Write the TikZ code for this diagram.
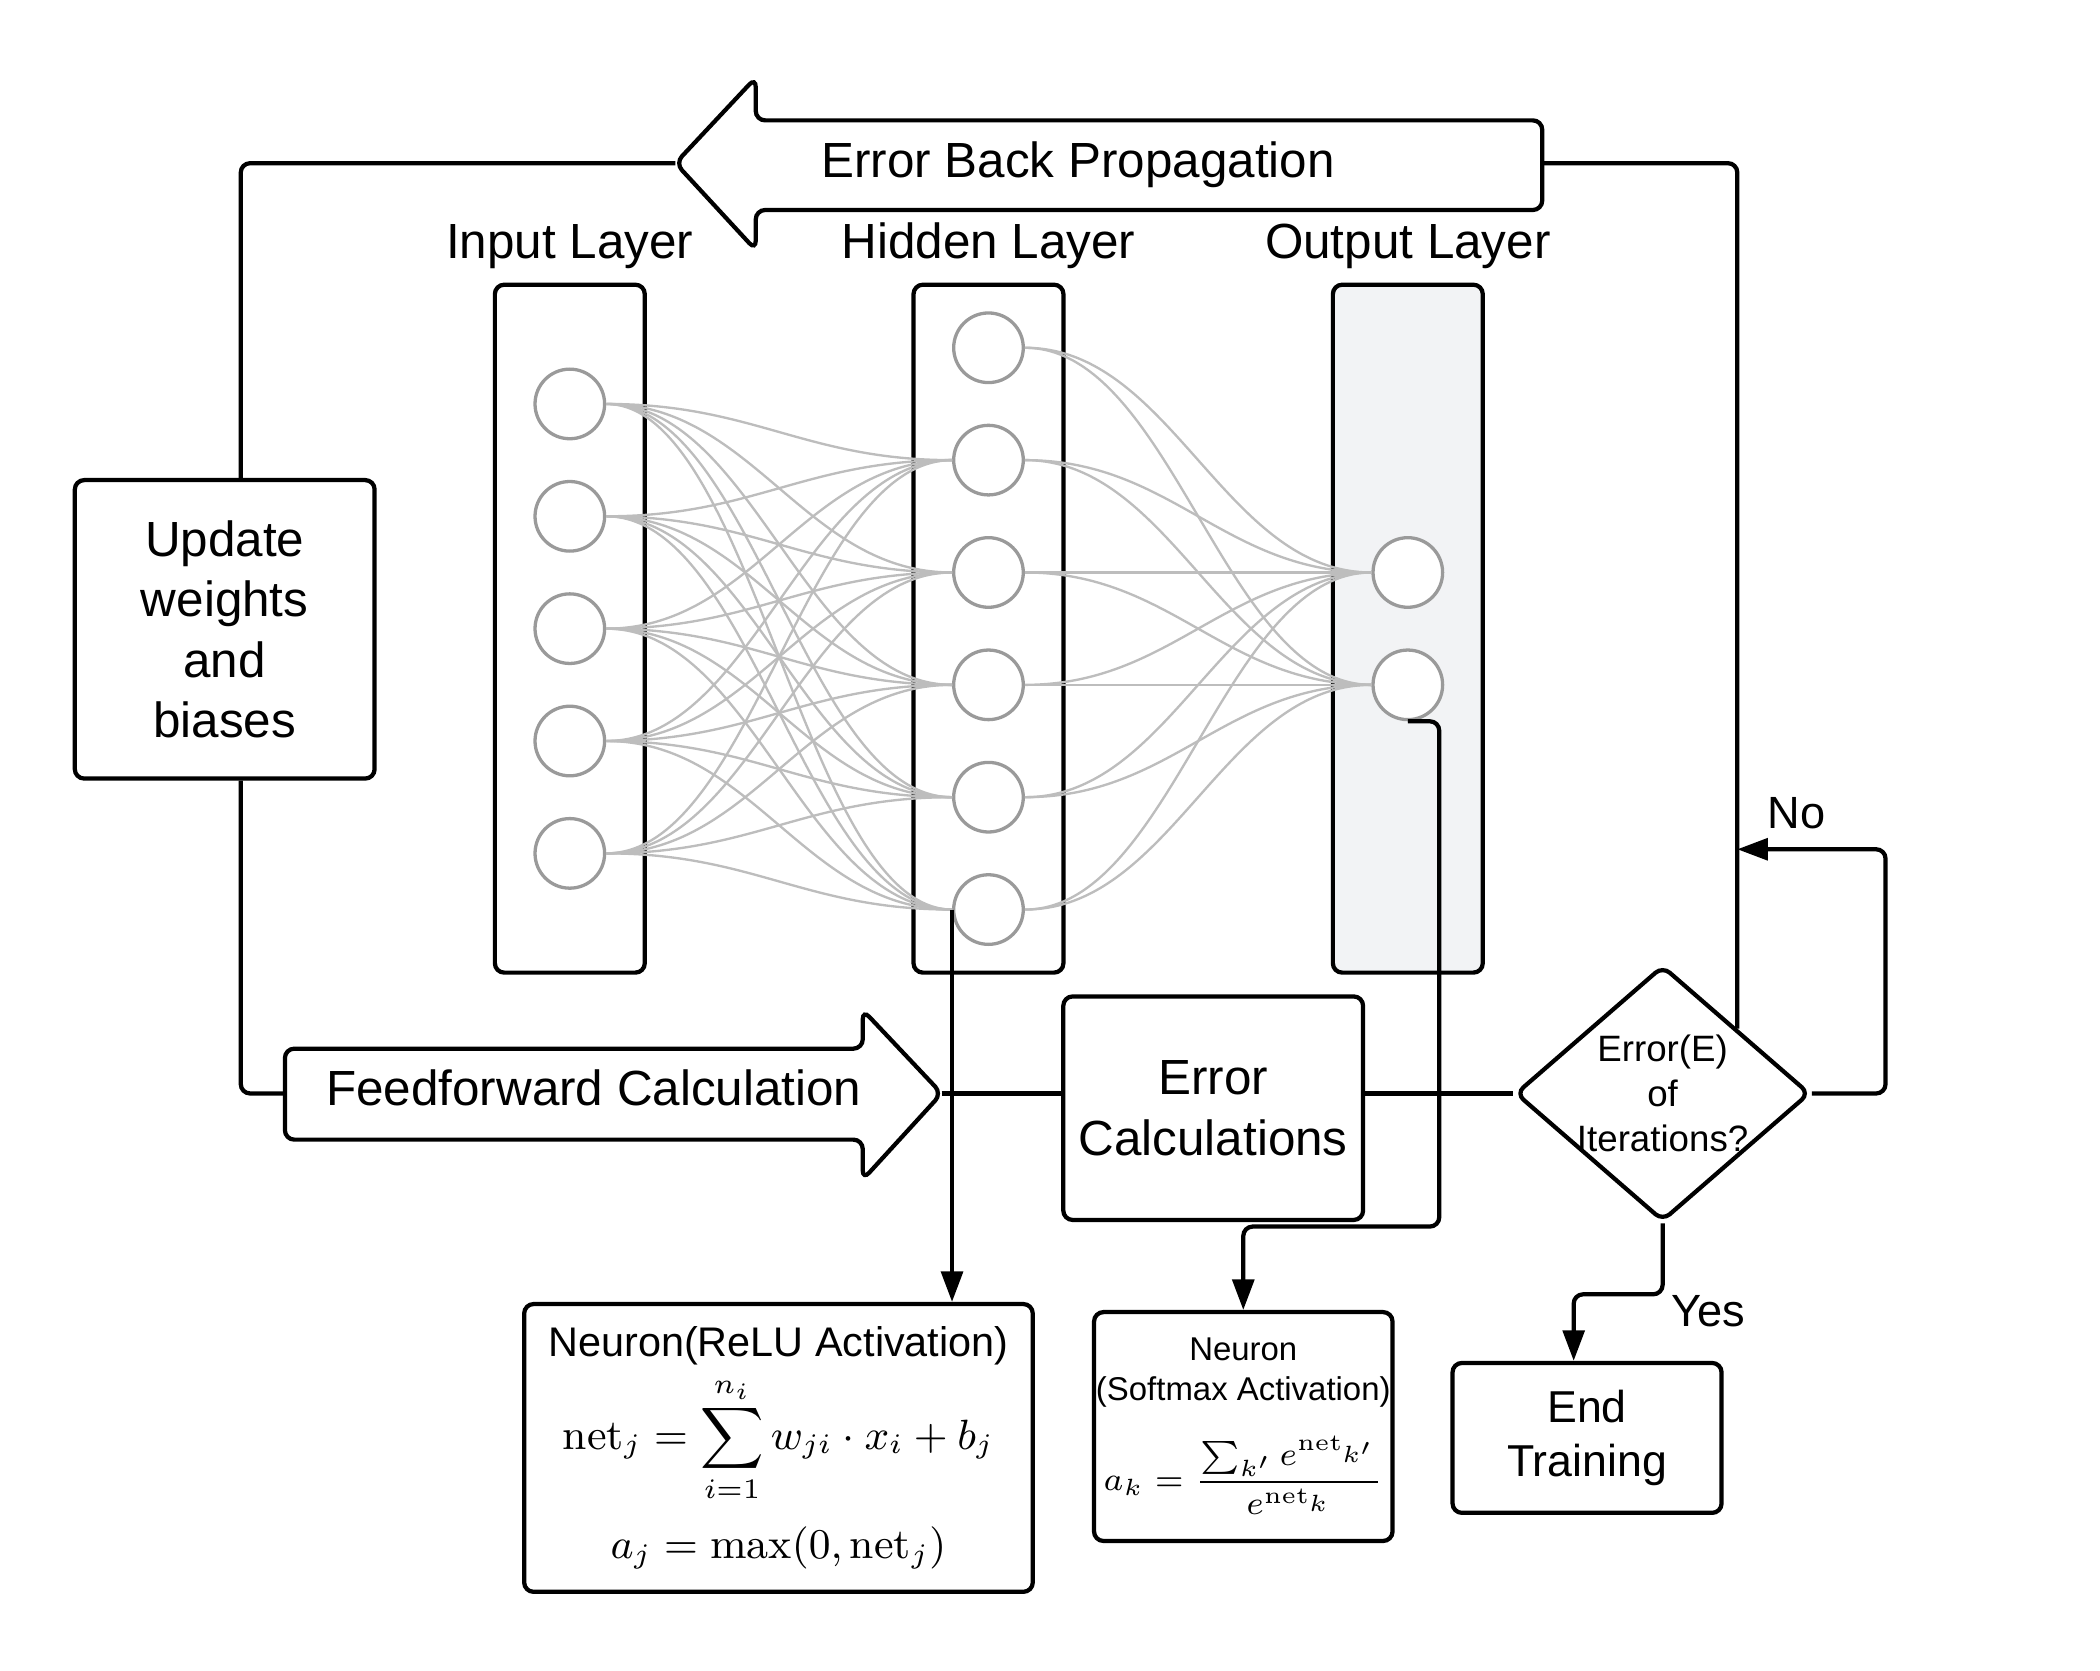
\documentclass[tikz,border=0pt]{standalone}
\usepackage{amsmath}
\usepackage{amssymb}
\usepackage{fontspec}
\newfontfamily\lsans{Liberation Sans}
\usetikzlibrary{arrows.meta, calc, positioning, shapes.geometric}
\definecolor{outfill}{HTML}{F2F3F5}
\definecolor{nrngray}{HTML}{9A9A9A}
\definecolor{syngray}{HTML}{BDBDBD}

\begin{document}
\begin{tikzpicture}[x=0.01cm, y=-0.01cm,
    box/.style={draw, line width=0.9pt, rounded corners=0.7mm, align=center, inner sep=0pt},
    big/.style={font=\lsans\fontsize{10.5}{12.8}\selectfont},
    layer/.style={box, minimum width=1.12cm, minimum height=5.14cm},
    neuron/.style={circle, draw=nrngray, line width=0.7pt, fill=white, minimum size=0.52cm, inner sep=0pt},
    syn/.style={draw=syngray, line width=0.5pt},
    flow/.style={line width=0.9pt, rounded corners=0.7mm},
    arr/.style={flow, -{Triangle[length=6.5pt, width=4.6pt]}}]
        \useasboundingbox (0,0) rectangle (1570,1249);

        \node[layer] (inbox) at (426,470) {};
        \node[layer] (hidbox) at (739,470) {};
        \node[layer, fill=outfill] (outbox) at (1052.5,470) {};
        \node[big, inner sep=0pt, above=1mm of inbox] (inlbl) {Input Layer};
        \node[big, inner sep=0pt, above=1mm of hidbox] (hidlbl) {Hidden Layer};
        \node[big, inner sep=0pt, above=1mm of outbox] (outlbl) {Output Layer};

        \foreach \k in {1,...,5} \node[neuron] (i\k) at (426,218+84*\k) {};
        \foreach \k in {1,...,6} \node[neuron] (h\k) at (739,176+84*\k) {};
        \foreach \k in {1,2} \node[neuron] (o\k) at (1052.5,344+84*\k) {};

        \foreach \a in {1,...,5}
            \foreach \b in {2,...,6}
                \draw[syn] (i\a.east) .. controls +(110,0) and +(-110,0) .. (h\b.west);
        \foreach \a in {1,...,6}
            \foreach \b in {1,2}
                \draw[syn] (h\a.east) .. controls +(110,0) and +(-110,0) .. (o\b.west);

        \node[box, big, minimum width=2.24cm, minimum height=2.23cm] (update) at (168,470.5) {Update\\weights\\and\\biases};

        \coordinate (bptip) at (505,122);
        \coordinate (bptail) at (1153,122);
        \draw[flow] (bptip) -- (565,58) -- (565,90) -- (1153,90) -- (1153,157) -- (565,157) -- (565,187) -- cycle;
        \node[big] (bptext) at (806,123) {Error Back Propagation};

        \coordinate (fftail) at (213,817.5);
        \coordinate (fftip) at (704,817.5);
        \draw[flow] (fftip) -- (645,882) -- (645,852) -- (213,852) -- (213,784) -- (645,784) -- (645,755) -- cycle;
        \node[big] (fftext) at (444,813) {Feedforward Calculation};

        \node[box, big, minimum width=2.24cm, minimum height=1.67cm] (err) at (907,828.5) {Error\\Calculations};

        \node[diamond, draw, line width=0.9pt, rounded corners=0.7mm, minimum width=2.2cm, minimum height=1.91cm, inner sep=0pt] (dia) at (1243,817.5) {};
        \node[font=\lsans\fontsize{7.8}{9.6}\selectfont, align=center, inner sep=0pt] (diatext) at (dia.center) {Error(E)\\of\\Iterations?};
        \coordinate (dne) at ($(dia.north)!0.5!(dia.east)$);
        \coordinate (nojoin) at ($(dne)+(0,-134)$);

        \node[box, font=\lsans\fontsize{9.5}{11.4}\selectfont, minimum width=2.01cm, minimum height=1.12cm] (endt) at (1186.5,1075) {End\\Training};

        \node[box, font=\fontsize{9.1}{10}\selectfont, minimum width=3.8cm, minimum height=2.15cm] (relu) at (582,1082.5)
            {{\lsans\fontsize{8.8}{10}\selectfont Neuron(ReLU Activation)}\\[1.5pt]
             $\displaystyle \mathrm{net}_j=\sum_{i=1}^{n_i} w_{ji}\cdot x_i+b_j$\\[4pt]
             $a_j=\max(0,\mathrm{net}_j)$};

        \node[box, font=\fontsize{7}{8.5}\selectfont, minimum width=2.23cm, minimum height=1.71cm] (smax) at (929.5,1066.5)
            {{\lsans\fontsize{7}{8.5}\selectfont Neuron}\\
             {\lsans\fontsize{7}{8.5}\selectfont (Softmax Activation)}\\[5pt]
             $\displaystyle a_k=\frac{\sum_{k'} e^{\mathrm{net}_{k'}}}{e^{\mathrm{net}_k}}$};

        \coordinate (sbend) at (1076,917);

        \node[font=\lsans\fontsize{9.6}{11}\selectfont] (nolbl) at (1343,608) {No};
        \node[font=\lsans\fontsize{9.6}{11}\selectfont] (yeslbl) at (1277,980) {Yes};

        \draw[flow] (bptip) -| ($(update.north)+(12,0)$);
        \draw[flow] ($(update.south)+(12,0)$) |- (fftail);
        \draw[flow] (bptail) -| (dne);
        \draw[flow] (fftip) -- (fftip -| err.west);
        \draw[flow] (err.east |- dia.west) -- (dia.west);
        \draw[arr] (dia.east) -- ++(55,0) |- (nojoin);
        \draw[arr] (dia.south) -- ++(0,53) -| ($(endt.north)+(-10,0)$);
        \draw[arr] (h6.west) -- (h6.west |- relu.north);
        \draw[arr] (o2.south) -| (sbend) -| (smax.north);
\end{tikzpicture}
\end{document}
